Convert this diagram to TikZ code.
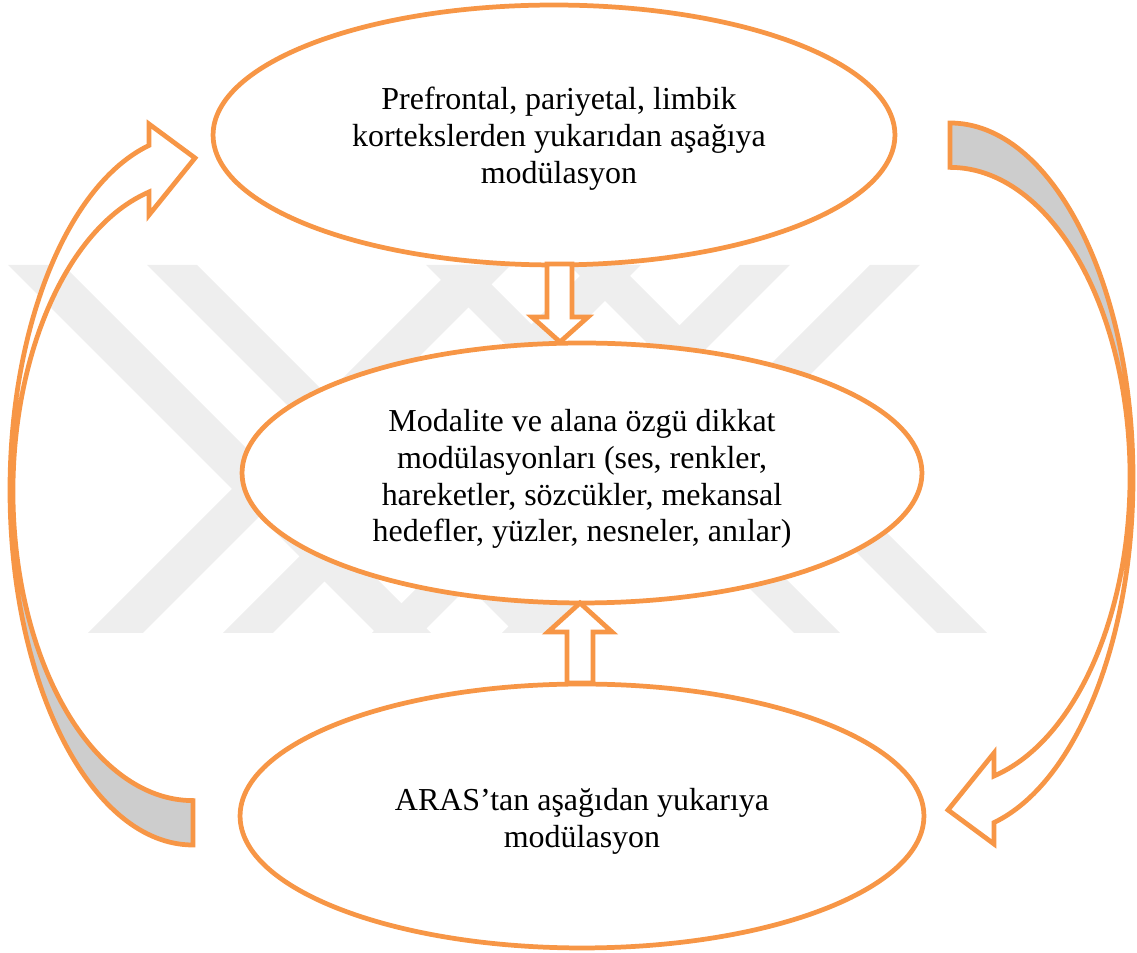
\documentclass[tikz,border=0pt]{standalone}
\usepackage{fontspec}
\setmainfont{Liberation Serif}
\usetikzlibrary{shapes.geometric}
\definecolor{org}{HTML}{F79646}
\definecolor{backgray}{HTML}{CDCDCD}
\definecolor{wm}{HTML}{EEEEEE}
\newcommand{\mycurvedarrow}{%
  \fill[white] (193,108) arc[start angle=270,end angle=103.9,x radius=183,y radius=355]
     -- (149,829) -- (195,795) -- (149,738) -- (149,761)
     arc[start angle=104.15,end angle=270,x radius=180,y radius=309] -- cycle;
  \fill[backgray] (193,108) arc[start angle=270,end angle=190.7,x radius=183,y radius=355]
     -- ([shift={(193,462)}]192.2:180 and 309)
     arc[start angle=192.2,end angle=270,x radius=180,y radius=309] -- cycle;
  \draw[arrowline] (193,108) arc[start angle=270,end angle=103.9,x radius=183,y radius=355]
     -- (149,829) -- (195,795) -- (149,738) -- (149,761)
     arc[start angle=104.15,end angle=270,x radius=180,y radius=309] -- cycle;
}
\begin{document}
\begin{tikzpicture}[x=0.02cm,y=0.02cm,
  oval/.style={ellipse, draw=org, line width=2.7pt, fill=white, inner sep=0pt},
  ovaltext/.style={align=center, inner sep=0pt, font=\fontsize{18.2}{21}\selectfont},
  arrowline/.style={draw=org, line width=2.7pt, line join=miter},
  blockarrow/.style={draw=org, line width=2.7pt, fill=white, line join=miter},
  wmark/.style={fill=wm}]
\useasboundingbox (0,0) rectangle (1137,953);
% faint watermark
\fill[wmark] (8,688) -- (63,688) -- (431,320) -- (376,320) -- cycle;
\fill[wmark] (88,320) -- (143,320) -- (511,688) -- (456,688) -- cycle;
\fill[wmark] (147,688) -- (197,688) -- (565,320) -- (515,320) -- cycle;
\fill[wmark] (223,320) -- (273,320) -- (641,688) -- (591,688) -- cycle;
\fill[wmark] (870,688) -- (920,688) -- (552,320) -- (502,320) -- cycle;
\fill[wmark] (740,688) -- (790,688) -- (422,320) -- (372,320) -- cycle;
\fill[wmark] (937,320) -- (987,320) -- (619,688) -- (569,688) -- cycle;
\fill[wmark] (794,320) -- (840,320) -- (472,688) -- (426,688) -- cycle;
% ovals
\node[oval, minimum width=13.64cm, minimum height=5.2cm] (top) at (554,818) {};
\node[oval, minimum width=13.6cm, minimum height=5.2cm] (mid) at (582,480) {};
\node[oval, minimum width=13.68cm, minimum height=5.28cm] (bot) at (582,137) {};
\node[ovaltext] (toptext) at ([shift={(5,-4)}]top.center)
  {Prefrontal, pariyetal, limbik\\kortekslerden yukarıdan aşağıya\\modülasyon};
\node[ovaltext] (midtext) at ([shift={(0,-6)}]mid.center)
  {Modalite ve alana özgü dikkat\\modülasyonları (ses, renkler,\\hareketler, sözcükler, mekansal\\hedefler, yüzler, nesneler, anılar)};
\node[ovaltext] (bottext) at ([shift={(0,-5)}]bot.center)
  {ARAS’tan aşağıdan yukarıya\\modülasyon};
% block arrows between ovals
\coordinate (dstart) at (559.5,689);
\coordinate (dtip) at (560,611);
\draw[blockarrow] (dstart) ++(-12.5,0) -- (547,636) -- (532,636) -- (dtip) -- (588,636) -- (572,636) -- (572,689) -- cycle;
\coordinate (ustart) at (580,270);
\coordinate (utip) at (580,350);
\draw[blockarrow] (ustart) ++(-13,0) -- (567,321) -- (548,321) -- (utip) -- (612,321) -- (593,321) -- (593,270) -- cycle;
% curved arrows
\mycurvedarrow
\begin{scope}[rotate around={180:(571.5,469)}]
\mycurvedarrow
\end{scope}
\end{tikzpicture}
\end{document}
